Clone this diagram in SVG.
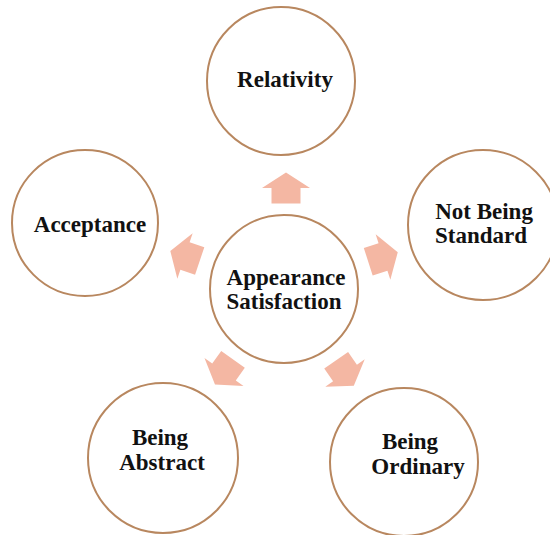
<svg xmlns="http://www.w3.org/2000/svg" width="550" height="535" viewBox="0 0 550 535">
<style>
.n{fill:#fff;stroke:#b8875f;stroke-width:2}
.t{font-family:"Liberation Serif","Times New Roman",serif;font-weight:bold;font-size:23px;fill:#111;text-anchor:middle}
.a{fill:#f4b7a3}
</style>
<defs>
<path id="arr" d="M15.5,0 L0,-24 L0,-14.5 L-15.5,-14.5 L-15.5,14.5 L0,14.5 L0,24 Z"/>
</defs>
<rect width="550" height="535" fill="#fff"/>
<g id="connectors">
<use href="#arr" class="a" transform="translate(286,188) rotate(-90)"/>
<use href="#arr" class="a" transform="translate(185,256) rotate(-161.4)"/>
<use href="#arr" class="a" transform="translate(383,257) rotate(-17.8)"/>
<use href="#arr" class="a" transform="translate(224,372) rotate(125.6)"/>
<use href="#arr" class="a" transform="translate(345,373) rotate(55.3)"/>
</g>
<g id="center">
<circle class="n" cx="284" cy="289" r="74"/>
<text class="t" x="286" y="285">Appearance</text>
<text class="t" x="284" y="309">Satisfaction</text>
</g>
<g id="relativity">
<circle class="n" cx="281" cy="81" r="74"/>
<text class="t" x="285" y="87">Relativity</text>
</g>
<g id="acceptance">
<circle class="n" cx="85" cy="223" r="73"/>
<text class="t" x="90" y="232">Acceptance</text>
</g>
<g id="not-being-standard">
<circle class="n" cx="483" cy="225" r="75"/>
<text class="t" x="484" y="219">Not Being</text>
<text class="t" x="481" y="243">Standard</text>
</g>
<g id="being-abstract">
<circle class="n" cx="163" cy="458" r="75"/>
<text class="t" x="160" y="445">Being</text>
<text class="t" x="162" y="470">Abstract</text>
</g>
<g id="being-ordinary">
<circle class="n" cx="404" cy="462" r="74"/>
<text class="t" x="410" y="449">Being</text>
<text class="t" x="418" y="474">Ordinary</text>
</g>
</svg>
